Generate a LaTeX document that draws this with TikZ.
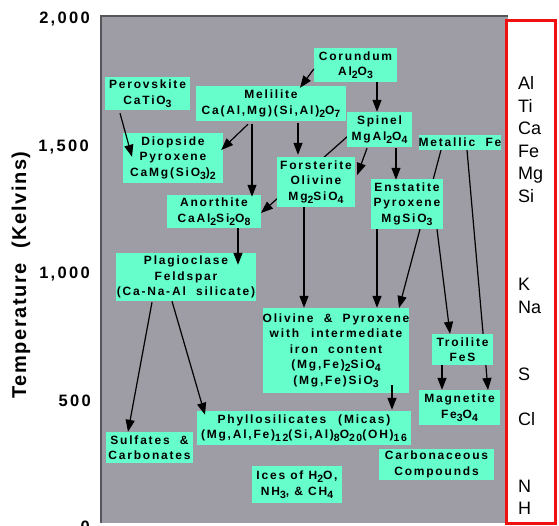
\documentclass[tikz,border=0pt]{standalone}
\usepackage{fontspec}
\setmainfont{Liberation Sans}
\newfontfamily\boxfam[LetterSpace=15]{Liberation Sans}
\newfontfamily\tickfam[LetterSpace=14]{Liberation Sans}
\newfontfamily\titlefam[LetterSpace=8]{Liberation Sans}
\newfontfamily\elfam{Liberation Sans}
\usetikzlibrary{arrows.meta,calc}
\definecolor{panel}{RGB}{158,156,164}
\definecolor{paneledge}{RGB}{85,85,90}
\definecolor{aqua}{RGB}{102,255,204}
\definecolor{redbox}{RGB}{240,16,16}
\newcommand\sbs[1]{\raisebox{-3pt}{\fontsize{10.5}{11}\selectfont #1}}
\begin{document}
\begin{tikzpicture}[x=1pt,y=-1pt,
  box/.style={fill=aqua, inner sep=0pt, align=center,
    font=\boxfam\bfseries\fontsize{12}{15.5}\selectfont},
  arr/.style={-{Triangle[length=12pt,width=9pt]}, line width=1.2pt, black},
  tick/.style={anchor=base east, inner sep=0pt, font=\tickfam\bfseries\fontsize{16.5}{18}\selectfont},
  el/.style={anchor=base west, inner sep=0pt, font=\elfam\fontsize{18}{20}\selectfont}]
\useasboundingbox (0,0) rectangle (559,525);
% panel
\fill[panel] (101,16) rectangle (508,523);
\draw[paneledge, line width=1.2pt] (101,523) -- (101,16) -- (508,16);
% axis
\node[tick] (t2000) at (90,23.5) {2,000};
\node[tick] (t1500) at (89,151) {1,500};
\node[tick] (t1000) at (90,278) {1,000};
\node[tick] (t500) at (91,406) {500};
\node[tick] (t0) at (90,532) {0};
\node[rotate=90, inner sep=0pt, font=\titlefam\bfseries\fontsize{20}{22}\selectfont] (ylab) at (21,275) {Temperature\ \ (Kelvins)};
% red element column
\draw[redbox, fill=white, line width=3pt] (506,20) rectangle (555,523);
\node[el] (eAl) at (518,89.5) {Al};
\node[el] (eTi) at (518,112) {Ti};
\node[el] (eCa) at (518,134) {Ca};
\node[el] (eFe) at (518,157) {Fe};
\node[el] (eMg) at (518,179) {Mg};
\node[el] (eSi) at (518,202) {Si};
\node[el] (eK) at (518,290) {K};
\node[el] (eNa) at (518,313) {Na};
\node[el] (eS) at (518,380) {S};
\node[el] (eCl) at (518,425) {Cl};
\node[el] (eN) at (518,492) {N};
\node[el] (eH) at (518,514) {H};
% coordinates for boxes
\coordinate (cspi) at (379.5,129.5);
\coordinate (cano) at (214,211.5);
\coordinate (cmfe) at (460,142.5);
\coordinate (colp) at (336,350.5);
\coordinate (cmag) at (459.5,407.5);
% lines passing behind boxes
\draw[arr] ($(cspi)+(-31.5,6.5)$) -- ($(cano)+(47,1.5)$);
\draw[arr] ($(cmfe)+(-19,7.5)$) -- ($(colp)+(63,-42.5)$);
\draw[arr] ($(cmfe)+(7,7.5)$) -- ($(cmag)+(28.5,-17.5)$);
% boxes
\node[box, minimum width=85pt, minimum height=33pt] (per) at (147.5,93.5) {Perovskite\\CaTiO\sbs{3}};
\node[box, minimum width=150pt, minimum height=35pt] (mel) at (271,103.5) {Melilite\\Ca(Al,Mg)(Si,Al)\sbs{2}O\sbs{7}};
\node[box, minimum width=100pt, minimum height=50pt] (dio) at (173,158) {Diopside\\Pyroxene\\CaMg(SiO\sbs{3})\sbs{2}};
\node[box, minimum width=94pt, minimum height=33pt] (ano) at (cano) {Anorthite\\CaAl\sbs{2}Si\sbs{2}O\sbs{8}};
\node[box, minimum width=83pt, minimum height=34pt] (cor) at (355.5,65) {Corundum\\Al\sbs{2}O\sbs{3}};
\node[box, minimum width=65pt, minimum height=35pt] (spi) at (cspi) {Spinel\\MgAl\sbs{2}O\sbs{4}};
\node[box, minimum width=82pt, minimum height=15pt] (mfe) at (cmfe) {Metallic\ \ Fe};
\node[box, minimum width=78pt, minimum height=50pt] (for) at (316,182) {Forsterite\\Olivine\\Mg\sbs{2}SiO\sbs{4}};
\node[box, minimum width=72pt, minimum height=50pt] (ens) at (407,204) {Enstatite\\Pyroxene\\MgSiO\sbs{3}};
\node[box, minimum width=140pt, minimum height=48pt] (pla) at (186,277) {Plagioclase\\Feldspar\\(Ca-Na-Al\ \ silicate)};
\node[box, minimum width=146pt, minimum height=85pt] (olp) at (colp) {Olivine\ \ \&\ \ Pyroxene\\with\quad intermediate\\iron\ \ content\\(Mg,Fe)\sbs{2}SiO\sbs{4}\\(Mg,Fe)SiO\sbs{3}};
\node[box, minimum width=61pt, minimum height=31pt] (tro) at (462.5,349.5) {Troilite\\FeS};
\node[box, minimum width=81pt, minimum height=35pt] (mag) at (cmag) {Magnetite\\Fe\sbs{3}O\sbs{4}};
\node[box, minimum width=214pt, minimum height=34pt] (phy) at (304,428) {Phyllosilicates\quad(Micas)\\(Mg,Al,Fe)\sbs{12}(Si,Al)\sbs{8}O\sbs{20}(OH)\sbs{16}};
\node[box, minimum width=87pt, minimum height=31pt] (sul) at (149.5,447.5) {Sulfates\ \ \&\\Carbonates};
\node[box, minimum width=115pt, minimum height=31pt] (car) at (436.5,464.5) {Carbonaceous\\Compounds};
\node[box, minimum width=90pt, minimum height=37pt] (ice) at (297,484.5) {Ices of H\sbs{2}O,\\NH\sbs{3}, \& CH\sbs{4}};
% arrows on top
\draw[arr] ($(per.south)+(-27.5,3)$) -- ($(dio.north)+(-41,24)$);
\draw[arr] ($(mel.south)+(-23,3)$) -- ($(dio.east)+(-2,-8)$);
\draw[arr] ($(mel.south)+(-19,3)$) -- ($(ano.north)+(38,2)$);
\draw[arr] ($(mel.south)+(27,2)$) -- ($(for.north)+(-18,-2)$);
\draw[arr] ($(cor.west)+(0,4)$) -- ($(mel.north)+(29,2)$);
\draw[arr] ($(cor.south)+(21.5,0)$) -- ($(spi.north)+(-2.5,0)$);
\draw[arr] ($(spi.south)+(-12.5,1)$) -- ($(for.east)+(2,-7)$);
\draw[arr] ($(spi.south)+(16.5,1)$) -- ($(ens.north)+(-11,1)$);
\draw[arr] ($(for.south)+(-12,0)$) -- ($(olp.north)+(-32,0)$);
\draw[arr] ($(ens.south)+(-30,0)$) -- ($(olp.north)+(41,0)$);
\draw[arr] ($(ens.south)+(30,0)$) -- ($(tro.north)+(-12.5,0)$);
\draw[arr] ($(tro.south)+(-20.5,0)$) -- ($(mag.north)+(-17.5,0)$);
\draw[arr] ($(ano.south)+(24,0)$) -- ($(pla.north)+(52,12)$);
\draw[arr] ($(pla.south)+(-34,1)$) -- ($(sul.north)+(-21.5,0)$);
\draw[arr] ($(pla.south)+(-14,0)$) -- ($(phy.north)+(-99,4)$);
\draw[arr] ($(olp.south)+(56,-8)$) -- ($(phy.north)+(88,-1)$);
\end{tikzpicture}
\end{document}
